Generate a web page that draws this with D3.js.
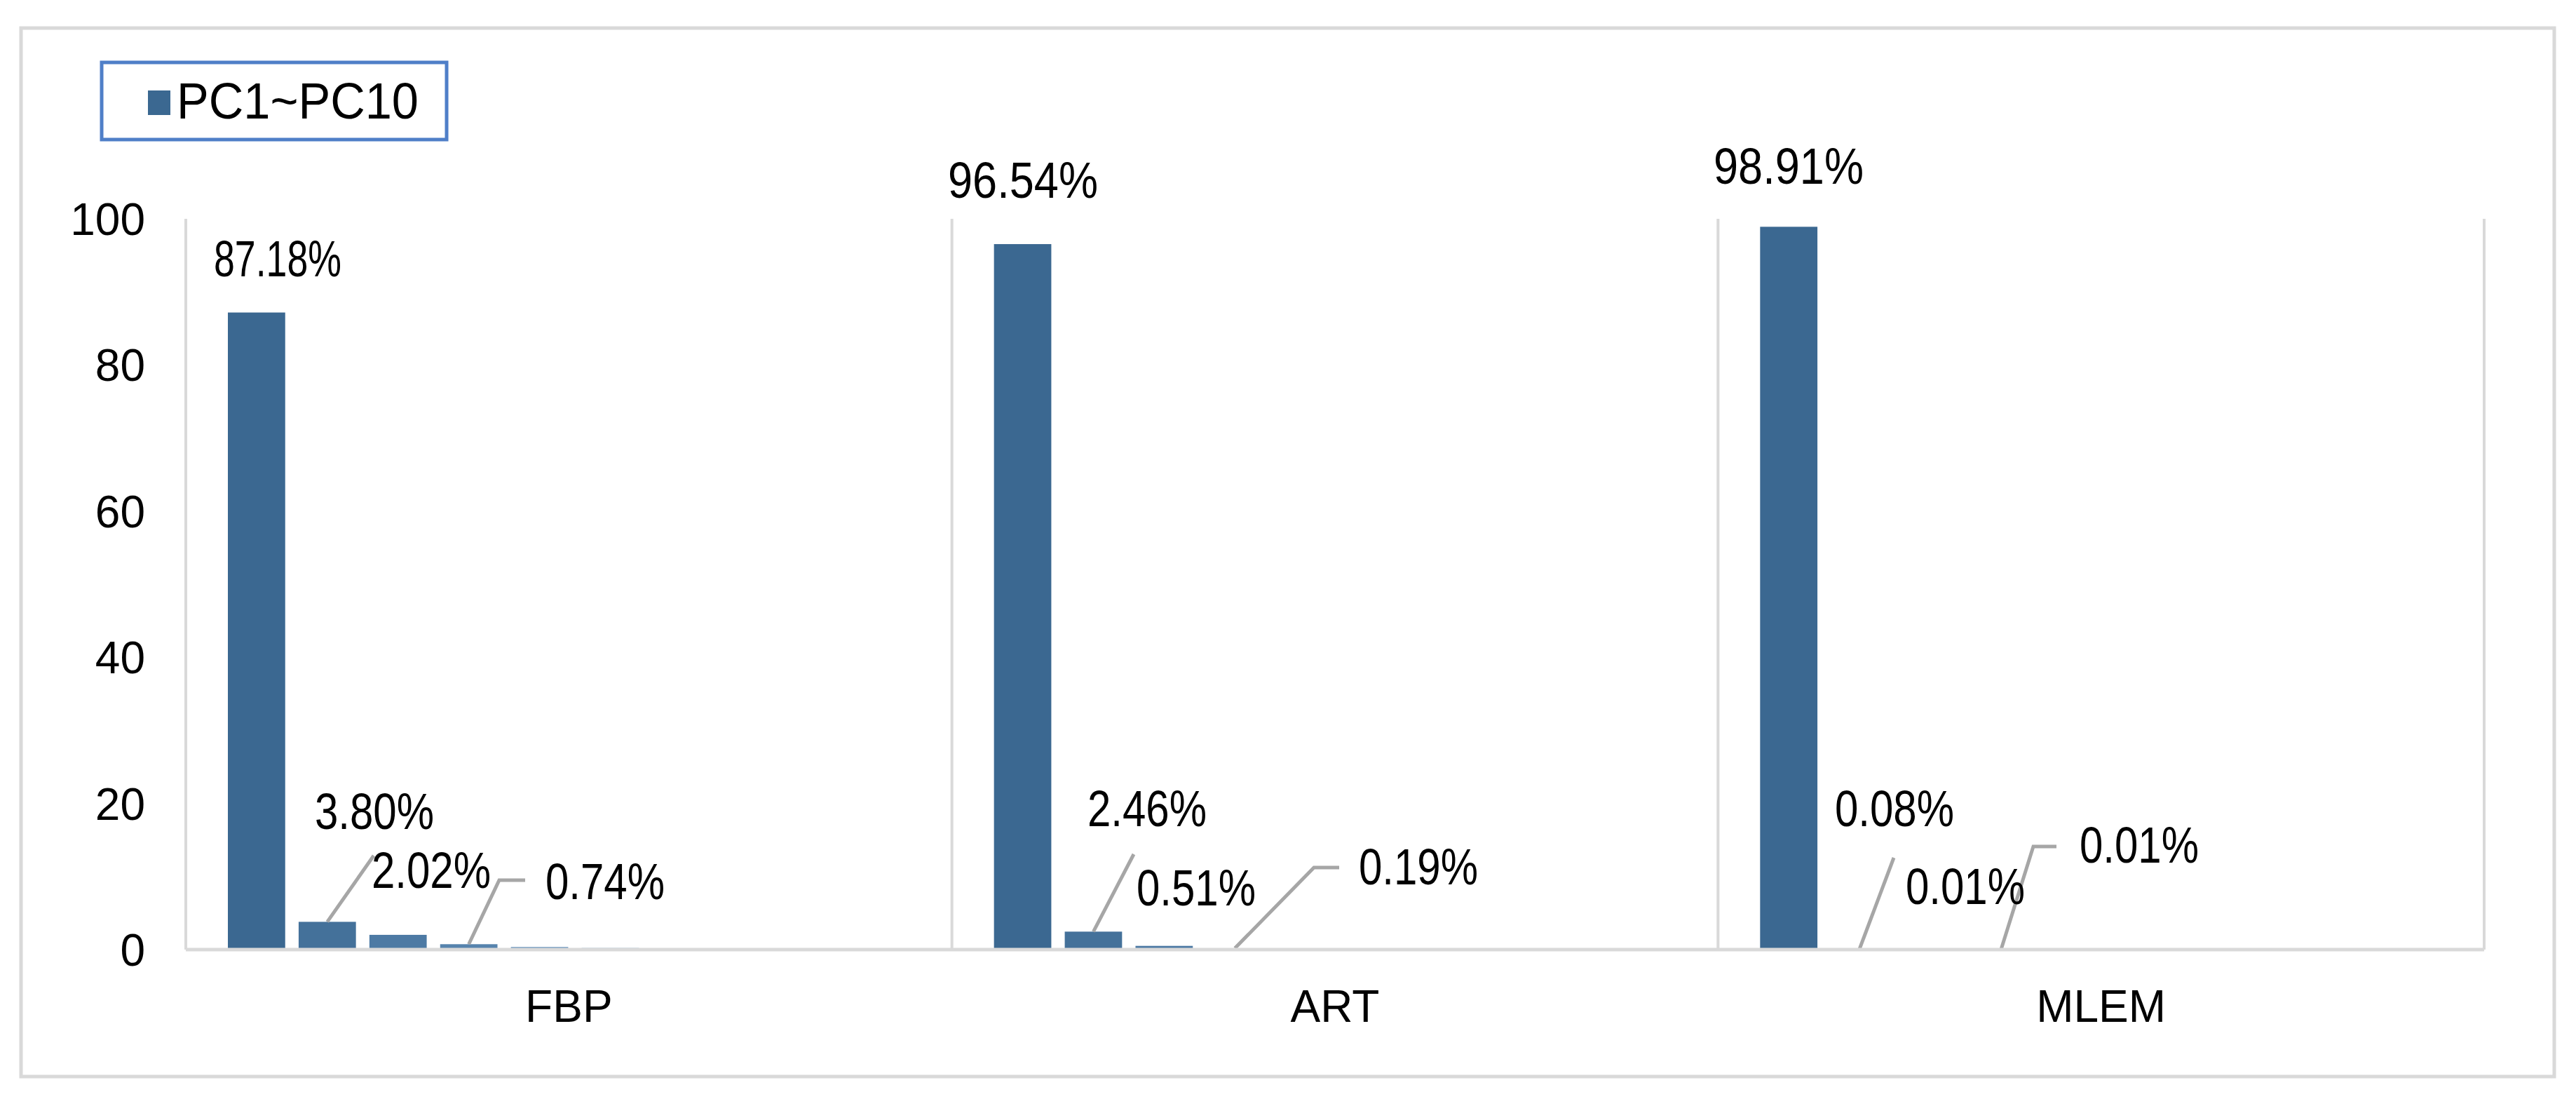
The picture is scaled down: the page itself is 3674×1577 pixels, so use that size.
<!DOCTYPE html><html><head><meta charset="utf-8"><script src="https://cdn.jsdelivr.net/npm/d3@7"></script>
<style>body{margin:0;background:#fff}text{font-family:"Liberation Sans Narrow","Arial Narrow","Liberation Sans",sans-serif;fill:#000}</style></head><body>
<script>
const categories=["FBP","ART","MLEM"];
const series=["PC1","PC2","PC3","PC4","PC5","PC6","PC7","PC8","PC9","PC10"];
const fbpValues=[87.18,3.80,2.02,0.74,0.35,0.22,0.15,0.04,0.03,0.02];
const artValues=[96.54,2.46,0.51,0.19,0.1,0.07,0.05,0.03,0.03,0.02];
const mlemValues=[98.91,0.08,0.01,0.01,0.0,0.0,0.0,0.0,0.0,0.0];
const yTicks=[0,20,40,60,80,100];
const legendLabel="PC1~PC10";
const labelText={FBP:["87.18%","3.80%","2.02%","0.74%"],ART:["96.54%","2.46%","0.51%","0.19%"],MLEM:["98.91%","0.08%","0.01%","0.01%"]};
const values={FBP:fbpValues,ART:artValues,MLEM:mlemValues};
// label layout (pixel positions, x start / baseline) and leader polylines
const labelPos={FBP:[[305,394],[449,1182],[530,1266],[778,1282]],
 ART:[[1352,282],[1551,1178],[1621,1291],[1938,1261]],
 MLEM:[[2444,262],[2617,1178],[2718,1289],[2966,1230]]};
const leaders={FBP:[[1,[533,1220]],[3,[712,1255],[749,1255]]],
 ART:[[1,[1617,1218]],[3,[1874,1237],[1910,1237]]],
 MLEM:[[1,[2701,1223]],[3,[2900,1207],[2933,1207]]]};

const W=3674,H=1577;
const svg=d3.select("body").append("svg").attr("width",W).attr("height",H);
svg.append("rect").attr("x",30).attr("y",40).attr("width",3613).attr("height",1495).attr("fill","#fff").attr("stroke","#d9d9d9").attr("stroke-width",5);
const L=265,R=3543,T=312,B=1354;
const x=d3.scaleBand().domain(categories).range([L,R]);
const y=d3.scaleLinear().domain([0,100]).range([B,T]);
const color=d3.scaleOrdinal().domain(series).range(series.map((s,i)=>d3.interpolateRgb("#3b6891","#8db8e6")(i/9)));
// separators
const g=svg.append("g");
g.selectAll("line.sep").data(categories.concat(["end"])).join("line")
 .attr("x1",(d,i)=>i<3?x(d):R).attr("x2",(d,i)=>i<3?x(d):R).attr("y1",T).attr("y2",B)
 .attr("stroke","#d9d9d9").attr("stroke-width",4);
// y axis labels
const ya=svg.append("g").attr("transform",`translate(${L},0)`).call(d3.axisLeft(y).tickValues(yTicks).tickSize(0).tickPadding(58));
ya.select(".domain").remove();
ya.selectAll("text").attr("font-size",64).style("font-family",'"Liberation Sans Narrow","Arial Narrow",sans-serif').attr("fill","#000").attr("dy","0.35em");
// bars
categories.forEach(c=>{
 const x1=d3.scaleBand().domain(series).range([x(c)+60,x(c)+1050]).paddingInner(0.19);
 svg.append("g").selectAll("rect").data(values[c]).join("rect")
  .attr("x",(d,i)=>x1(series[i])).attr("width",x1.bandwidth())
  .attr("y",d=>y(d)).attr("height",d=>B-y(d)).attr("fill",(d,i)=>color(series[i]));
 leaders[c].forEach(([i,...pts])=>{
  const p=[[x1(series[i])+x1.bandwidth()/2,y(values[c][i])],...pts];
  svg.append("path").attr("d",d3.line()(p)).attr("fill","none").attr("stroke","#a6a6a6").attr("stroke-width",5);
 });
 svg.append("g").selectAll("text").data(labelText[c]).join("text")
  .attr("x",(d,i)=>labelPos[c][i][0]).attr("y",(d,i)=>labelPos[c][i][1]).attr("font-size",72)
  .attr("textLength",172).attr("lengthAdjust","spacingAndGlyphs")
  .attr("textLength",(d,i)=>i===0?(c==="FBP"?182:214):170).text(d=>d);
});
// baseline
svg.append("line").attr("x1",L).attr("x2",R).attr("y1",B).attr("y2",B).attr("stroke","#d9d9d9").attr("stroke-width",5);
// x labels
const xa=svg.append("g").attr("transform",`translate(0,${B})`).call(d3.axisBottom(x).tickSize(0).tickPadding(58));
xa.select(".domain").remove();
xa.selectAll("text").attr("font-size",64).style("font-family",'"Liberation Sans Narrow","Arial Narrow",sans-serif').attr("fill","#000").attr("dy","0.71em");
// legend
svg.append("rect").attr("x",145).attr("y",89).attr("width",492).attr("height",110).attr("fill","#fff").attr("stroke","#4f7fc8").attr("stroke-width",5);
svg.append("rect").attr("x",211).attr("y",129).attr("width",32).attr("height",35).attr("fill",color("PC1"));
svg.append("text").attr("x",252).attr("y",169).attr("font-size",72).attr("textLength",345).attr("lengthAdjust","spacingAndGlyphs").text(legendLabel);
</script></body></html>
